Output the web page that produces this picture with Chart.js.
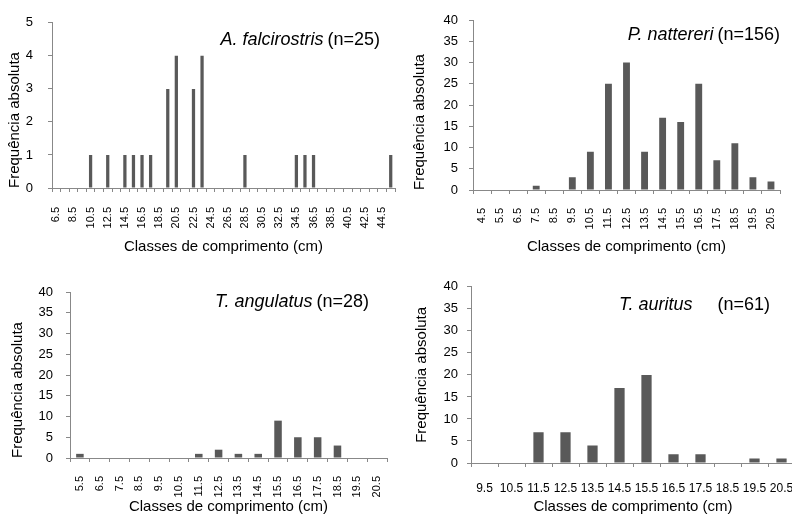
<!DOCTYPE html>
<html>
<head>
<meta charset="utf-8">
<script src="https://cdn.jsdelivr.net/npm/chart.js@4.4.0/dist/chart.umd.min.js"></script>
<style>
  html, body { margin: 0; background: #fff; overflow: hidden; }
  #wrap { position: relative; width: 792px; height: 516px; overflow: hidden; }
  canvas { position: absolute; }
</style>
</head>
<body>
<div id="wrap">
  <canvas id="c1" width="400" height="260" style="left:0;top:0"></canvas>
  <canvas id="c2" width="392" height="260" style="left:400px;top:0"></canvas>
  <canvas id="c3" width="400" height="246" style="left:0;top:270px"></canvas>
  <canvas id="c4" width="410" height="246" style="left:400px;top:270px"></canvas>
</div>
<script>
// classes de comprimento (cm) e frequencias
var falcClasses = ['6.5','7.5','8.5','9.5','10.5','11.5','12.5','13.5','14.5','15.5',
  '16.5','17.5','18.5','19.5','20.5','21.5','22.5','23.5','24.5','25.5',
  '26.5','27.5','28.5','29.5','30.5','31.5','32.5','33.5','34.5','35.5',
  '36.5','37.5','38.5','39.5','40.5','41.5','42.5','43.5','44.5','45.5'];
var falcCounts = [0,0,0,0,1,0,1,0,1,1, 1,1,0,3,4,0,3,4,0,0, 0,0,1,0,0,0,0,0,1,1, 1,0,0,0,0,0,0,0,0,1];

var nattClasses = ['4.5','5.5','6.5','7.5','8.5','9.5','10.5','11.5','12.5','13.5',
  '14.5','15.5','16.5','17.5','18.5','19.5','20.5'];
var nattCounts = [0,0,0,1,0,3,9,25,30,9,17,16,25,7,11,3,2];

var angClasses = ['5.5','6.5','7.5','8.5','9.5','10.5','11.5','12.5','13.5','14.5',
  '15.5','16.5','17.5','18.5','19.5','20.5'];
var angCounts = [1,0,0,0,0,0,1,2,1,1,9,5,5,3,0,0];

var aurClasses = ['9.5','10.5','11.5','12.5','13.5','14.5','15.5','16.5','17.5','18.5','19.5','20.5'];
var aurCounts = [0,0,7,7,4,17,20,2,2,0,1,1];

Chart.defaults.font.family = '"Liberation Sans", Arial, sans-serif';
Chart.defaults.color = '#000';

// nome da especie (italico) + (n=..)
var speciesLabel = {
  id: 'speciesLabel',
  afterDraw: function(chart, args, o) {
    var ctx = chart.ctx;
    ctx.save();
    ctx.fillStyle = '#000';
    ctx.textBaseline = 'middle';
    ctx.textAlign = 'right';
    ctx.font = o.size + 'px "Liberation Sans", Arial, sans-serif';
    ctx.fillText(o.count, o.right, o.y);
    var w = ctx.measureText(o.count).width;
    ctx.font = 'italic ' + o.size + 'px "Liberation Sans", Arial, sans-serif';
    ctx.fillText(o.name, o.right - w - o.gap, o.y);
    ctx.restore();
  }
};

function makeChart(id, classes, counts, p) {
  return new Chart(document.getElementById(id), {
    type: 'bar',
    data: {
      labels: classes,
      datasets: [{ data: counts, backgroundColor: '#595959', barPercentage: 0.38, categoryPercentage: 1 }]
    },
    options: {
      responsive: false,
      animation: false,
      layout: { padding: { left: 0, top: p.top, right: p.right, bottom: 0 } },
      plugins: {
        legend: { display: false },
        tooltip: { enabled: false },
        speciesLabel: p.label
      },
      scales: {
        x: {
          grid: { offset: true, drawOnChartArea: false, tickLength: 4, color: '#888' },
          border: { color: '#888' },
          ticks: {
            autoSkip: false, maxRotation: p.rot, minRotation: p.rot,
            padding: p.xPad, font: { size: p.xFont }, color: '#000',
            callback: function(v, i) { return i % p.every === 0 ? this.getLabelForValue(v) : ''; }
          },
          title: { display: true, text: 'Classes de comprimento (cm)', font: { size: 15 }, color: '#000',
                   padding: { top: 0, bottom: p.xTitlePad } },
          afterFit: function(s) {
            s.height = p.xHeight;
            s.paddingLeft = 0;
            s.paddingRight = 0;
          }
        },
        y: {
          min: 0, max: p.yMax,
          ticks: { stepSize: p.yStep, padding: p.yPad, font: { size: 13 }, color: '#000' },
          grid: { drawOnChartArea: false, tickLength: 4, color: '#888' },
          border: { color: '#888' },
          title: { display: true, text: 'Frequência absoluta', align: p.yAlign, font: { size: 15 }, color: '#000',
                   padding: { top: p.yTitlePad, bottom: 0 } },
          afterFit: function(s) { s.width = p.yWidth; }
        }
      }
    },
    plugins: [speciesLabel]
  });
}

makeChart('c1', falcClasses, falcCounts, {
  top: 18, right: 5, yWidth: 52, xHeight: 72, rot: 90, every: 2, xFont: 11, xPad: 15, xTitlePad: 4,
  yMax: 5, yStep: 1, yPad: 15, yTitlePad: 6, yAlign: 'start',
  label: { name: 'A. falcirostris', count: '(n=25)', right: 380, y: 40, gap: 4, size: 18 }
});
makeChart('c2', nattClasses, nattCounts, {
  top: 20, right: 12, yWidth: 73, xHeight: 70, rot: 90, every: 1, xFont: 11, xPad: 14, xTitlePad: 4,
  yMax: 40, yStep: 5, yPad: 11, yTitlePad: 11, yAlign: 'start',
  label: { name: 'P. nattereri', count: '(n=156)', right: 380, y: 35, gap: 4, size: 18 }
});
makeChart('c3', angClasses, angCounts, {
  top: 22, right: 13, yWidth: 70, xHeight: 58, rot: 90, every: 1, xFont: 11, xPad: 14, xTitlePad: 0,
  yMax: 40, yStep: 5, yPad: 13, yTitlePad: 9, yAlign: 'start',
  label: { name: 'T. angulatus', count: '(n=28)', right: 369, y: 32, gap: 4, size: 18 }
});
makeChart('c4', aurClasses, aurCounts, {
  top: 14, right: 15, yWidth: 71, xHeight: 53, rot: 0, every: 1, xFont: 12, xPad: 14, xTitlePad: 0,
  yMax: 40, yStep: 5, yPad: 9, yTitlePad: 13, yAlign: 'center',
  label: { name: 'T. auritus', count: '(n=61)', right: 370, y: 35, gap: 25, size: 18 }
});
</script>
</body>
</html>
